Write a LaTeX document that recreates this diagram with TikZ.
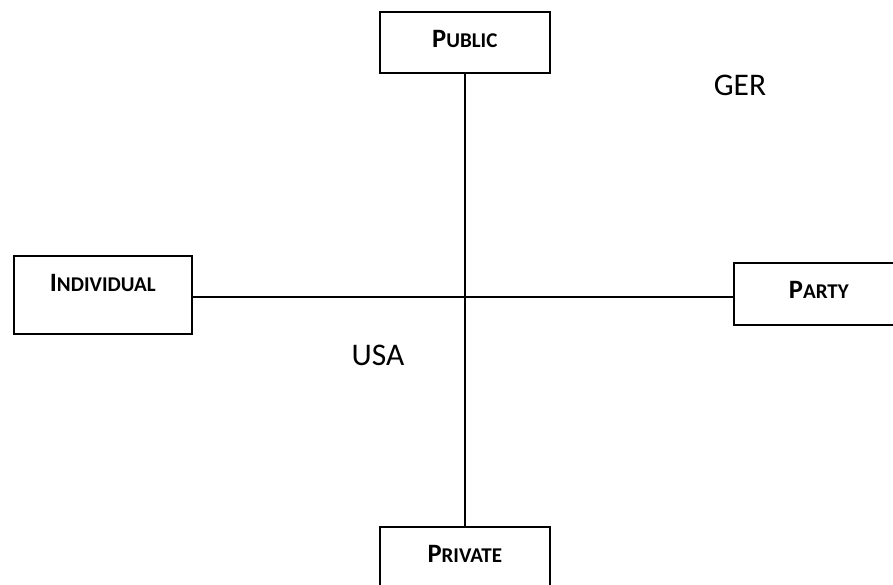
\documentclass[tikz,border=0pt]{standalone}
\usepackage{fontspec}
\setmainfont{Carlito}
\usetikzlibrary{positioning}
\newcommand{\smallcapsword}[2]{{\bfseries\fontsize{26.5}{26.5}\selectfont #1\fontsize{21}{21}\selectfont #2}}

\begin{document}
\begin{tikzpicture}[x=1pt,y=-1pt,
  axisbox/.style={draw,line width=1.6pt,inner sep=0pt,anchor=north west,text height=36pt},
  axisline/.style={line width=1.6pt},
  country/.style={font=\fontsize{31.5}{31.5}\selectfont}]
  \useasboundingbox (0,0) rectangle (893,585);
  % the four poles
  \node[axisbox,minimum width=170pt,text depth=25pt] (public) at (379,11) {\smallcapsword{P}{UBLIC}};
  \node[axisbox,minimum width=178pt,text depth=42pt] (individual) at (13,255) {\smallcapsword{I}{NDIVIDUAL}};
  \node[axisbox,minimum width=170pt,text depth=26pt] (party) at (733,262) {\smallcapsword{P}{ARTY}};
  \node[axisbox,minimum width=170pt,text depth=40pt] (private) at (379,526) {\smallcapsword{P}{RIVATE}};
  \coordinate (cross) at (464,297);
  % axes
  \draw[axisline] (public.south) -- (private.north);
  \draw[axisline] (individual.east |- cross) -- (party.west |- cross);
  % countries
  \node[country] (ger) at (740,85) {GER};
  \node[country] (usa) at (378,355) {USA};
\end{tikzpicture}
\end{document}
